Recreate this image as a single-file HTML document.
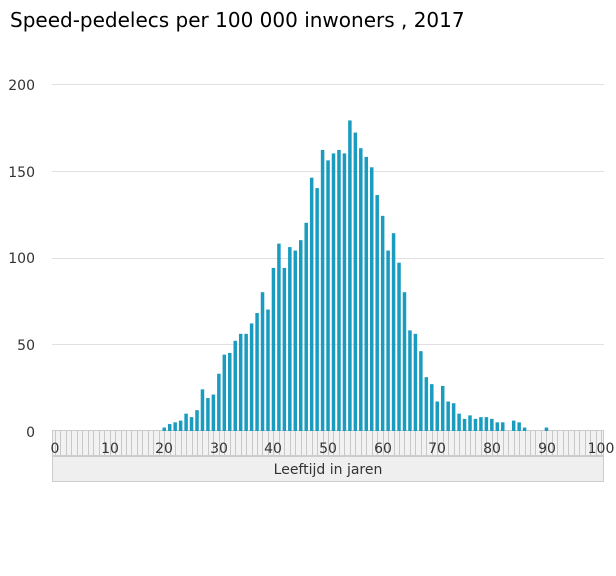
<!DOCTYPE html>
<html><head><meta charset="utf-8"><style>
body{margin:0;background:#fff;}
svg{display:block;font-family:"Liberation Sans","DejaVu Sans",sans-serif;}
</style></head><body>
<svg id="s" width="616" height="576" viewBox="0 0 616 576" xmlns="http://www.w3.org/2000/svg">
<text x="10" y="27" font-size="20" fill="#000" font-family="DejaVu Sans, sans-serif">Speed-pedelecs per 100 000 inwoners , 2017</text>
<g stroke="#e0e0e0" stroke-width="1">
<line x1="52" y1="84.5" x2="604" y2="84.5"/>
<line x1="52" y1="171.5" x2="604" y2="171.5"/>
<line x1="52" y1="258.5" x2="604" y2="258.5"/>
<line x1="52" y1="344.5" x2="604" y2="344.5"/>
</g>
<g font-size="14" fill="#333" text-anchor="end" font-family="DejaVu Sans, sans-serif">
<text x="35" y="90">200</text>
<text x="35" y="177">150</text>
<text x="35" y="263">100</text>
<text x="35" y="350">50</text>
<text x="35" y="437">0</text>
</g>
<rect x="52.5" y="430.5" width="551" height="25" fill="#f2f2f2" stroke="#ccc"/>
<g id="ticks" stroke="#c8c8c8" stroke-width="1"></g>
<g id="bars" fill="#1a9cc0"></g>
<g font-size="14" fill="#333" text-anchor="middle" font-family="DejaVu Sans, sans-serif">
<text x="55" y="453">0</text>
<text x="110" y="453">10</text>
<text x="164" y="453">20</text>
<text x="219" y="453">30</text>
<text x="273" y="453">40</text>
<text x="328" y="453">50</text>
<text x="383" y="453">60</text>
<text x="437" y="453">70</text>
<text x="492" y="453">80</text>
<text x="547" y="453">90</text>
<text x="601" y="453">100</text>
</g>
<rect x="52.5" y="456.5" width="551" height="25" fill="#efefef" stroke="#ccc"/>
<text x="328" y="474" font-size="14" fill="#333" text-anchor="middle" font-family="DejaVu Sans, sans-serif">Leeftijd in jaren</text>
</svg>
<script>
var v={20:2,21:4,22:5,23:6,24:10,25:8,26:12,27:24,28:19,29:21,30:33,31:44,32:45,33:52,34:56,35:56,36:62,37:68,38:80,39:70,40:94,41:108,42:94,43:106,44:104,45:110,46:120,47:146,48:140,49:162,50:156,51:160,52:162,53:160,54:179,55:172,56:163,57:158,58:152,59:136,60:124,61:104,62:114,63:97,64:80,65:58,66:56,67:46,68:31,69:27,70:17,71:26,72:17,73:16,74:10,75:7,76:9,77:7,78:8,79:8,80:7,81:5,82:5,84:6,85:5,86:2,90:2};
var ns="http://www.w3.org/2000/svg",b=document.getElementById("bars"),t=document.getElementById("ticks");
for(var a=0;a<=100;a++){var x=55+a*5.46;
 var l=document.createElementNS(ns,"line");l.setAttribute("x1",Math.round(x)+0.5);l.setAttribute("x2",Math.round(x)+0.5);l.setAttribute("y1",431);l.setAttribute("y2",455);t.appendChild(l);
 if(v[a]){var h=v[a]*1.735;var r=document.createElementNS(ns,"rect");r.setAttribute("x",x-1.7);r.setAttribute("width",3.5);r.setAttribute("y",431-h);r.setAttribute("height",h);b.appendChild(r);}}
</script>
</body></html>
